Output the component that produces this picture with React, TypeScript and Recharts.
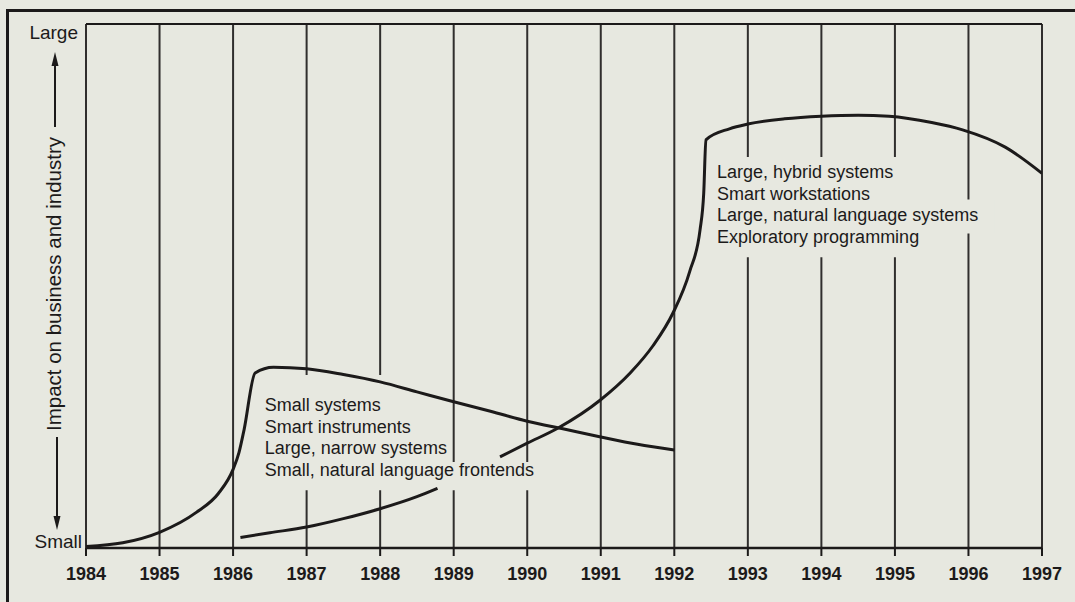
import React from 'react';
import { LineChart, Line, XAxis, YAxis, CartesianGrid, ReferenceArea, ReferenceLine, Label } from 'recharts';

// years along the bottom
const years = [1984, 1985, 1986, 1987, 1988, 1989, 1990, 1991, 1992, 1993, 1994, 1995, 1996, 1997];

// first wave: small systems etc.
const earlyYears = [1984, 1984.5, 1985, 1985.5, 1985.8, 1986, 1986.08, 1986.15, 1986.3, 1986.55, 1987, 1987.5, 1988, 1988.5, 1989, 1989.5, 1990, 1990.5, 1991, 1991.5, 1992];
const earlyImpact = [0.3, 1.0, 3.0, 6.8, 10.4, 15.0, 18.2, 22.6, 33.4, 34.5, 34.2, 33.1, 31.7, 29.8, 27.9, 26.1, 24.2, 22.7, 21.2, 19.8, 18.7];

// second wave: large hybrid systems etc. (null = where the label hides the curve)
const laterYears = [1986.1, 1986.5, 1987, 1987.5, 1988, 1988.5, 1988.78, 1989.2, 1989.63, 1990, 1990.42, 1990.99, 1991.4, 1991.71, 1991.98, 1992.21, 1992.35, 1992.4, 1992.43, 1992.75, 1993, 1993.5, 1994, 1994.5, 1994.92, 1995.5, 1995.92, 1996.5, 1997];
const laterImpact = [2.0, 2.9, 4.0, 5.6, 7.5, 9.8, 11.4, null, 17.4, 20.0, 22.9, 28.2, 33.4, 38.6, 44.8, 52.8, 60.7, 67.7, 77.9, 80.0, 80.9, 81.9, 82.4, 82.6, 82.4, 81.2, 79.8, 76.5, 71.5];

const yTicks = [0, 100];
const yTickLabels = ['Small', 'Large'];
const yTitle = 'Impact on business and industry';

const earlyApps = ['Small systems', 'Smart instruments', 'Large, narrow systems', 'Small, natural language frontends'];
const laterApps = ['Large, hybrid systems', 'Smart workstations', 'Large, natural language systems', 'Exploratory programming'];

const early = earlyYears.map((year, i) => ({ year, impact: earlyImpact[i] }));
const later = laterYears.map((year, i) => ({ year, impact: laterImpact[i] }));

const BG = '#e7e8e0';
const INK = '#1c1a1a';
const FONT = '"Liberation Sans", Arial, Helvetica, sans-serif';

function YTick(props: any) {
  const { x, y, payload } = props;
  const i = yTicks.indexOf(payload.value);
  const top = payload.value === 100;
  return (
    <text x={top ? x - 4 : x} y={top ? y + 15 : y} textAnchor="end" fontFamily={FONT} fontSize={19} fill={INK}>
      {yTickLabels[i]}
    </text>
  );
}

function YTitle(props: any) {
  const { viewBox } = props;
  const top = viewBox.y;
  const bottom = viewBox.y + viewBox.height;
  const cy = top + viewBox.height / 2 - 2;
  return (
    <g>
      <text x={61} y={cy} transform={`rotate(-90, 61, ${cy})`} textAnchor="middle" fontFamily={FONT} fontSize={20.5} fill={INK}>
        {yTitle}
      </text>
      <line x1={55} x2={55} y1={cy - 157} y2={top + 38} stroke={INK} strokeWidth={2} />
      <polygon points={`55,${top + 28} 51.5,${top + 42} 58.5,${top + 42}`} fill={INK} />
      <line x1={57} x2={57} y1={cy + 153} y2={bottom - 26} stroke={INK} strokeWidth={2} />
      <polygon points={`57,${bottom - 18} 53.5,${bottom - 32} 60.5,${bottom - 32}`} fill={INK} />
    </g>
  );
}

function textBlock(lines: string[], dx: number, dy: number) {
  return (props: any) => {
    const { x, y } = props.viewBox;
    return (
      <text fontFamily={FONT} fontSize={18} fill={INK}>
        {lines.map((l, i) => (
          <tspan key={l} x={x + dx} y={y + dy + i * 21.6}>{l}</tspan>
        ))}
      </text>
    );
  };
}

export default function App() {
  return (
    <div style={{ position: 'absolute', left: 0, top: 0, width: 1075, height: 602, background: BG, overflow: 'hidden' }}>
      <div style={{ position: 'absolute', left: 6, top: 9, width: 1100, height: 640, borderLeft: `3px solid ${INK}`, borderTop: `3px solid ${INK}` }} />
      <div style={{ position: 'absolute', left: 0, top: 0 }}>
        <LineChart width={1075} height={602} margin={{ top: 24, right: 33, bottom: 0, left: 0 }}>
          <CartesianGrid horizontal={false} stroke={INK} strokeWidth={2} strokeOpacity={0.9} />
          <ReferenceArea x1={1988.9} x2={1990.35} y1={11} y2={16.4} fill={BG} fillOpacity={1} stroke="none" ifOverflow="visible" />
          <ReferenceArea x1={1995.9} x2={1996.35} y1={60} y2={66.5} fill={BG} fillOpacity={1} stroke="none" ifOverflow="visible" />
          <ReferenceArea x1={1986.35} x2={1988.9} y1={11} y2={33} fill={BG} fillOpacity={1} stroke="none" ifOverflow="visible"
            label={{ content: textBlock(earlyApps, 6, 36) }} />
          <ReferenceArea x1={1992.5} x2={1995.9} y1={55.5} y2={74.6} fill={BG} fillOpacity={1} stroke="none" ifOverflow="visible"
            label={{ content: textBlock(laterApps, 6, 21) }} />
          <ReferenceLine y={100} stroke={INK} strokeWidth={2} />
          <XAxis
            dataKey="year"
            type="number"
            domain={[1984, 1997]}
            ticks={years}
            allowDataOverflow
            height={54}
            tickSize={8}
            tickMargin={11}
            tickLine={{ stroke: INK, strokeWidth: 2 }}
            axisLine={{ stroke: INK, strokeWidth: 2.5 }}
            tick={{ fill: INK, fontSize: 18, fontWeight: 'bold', fontFamily: FONT }}
          />
          <YAxis
            type="number"
            domain={[0, 100]}
            ticks={yTicks}
            width={86}
            axisLine={false}
            tickLine={false}
            tickSize={0}
            tickMargin={4}
            tick={<YTick />}
          >
            <Label content={<YTitle />} />
          </YAxis>
          <Line data={early} dataKey="impact" type="monotone" stroke={INK} strokeWidth={3} dot={false} isAnimationActive={false} />
          <Line data={later} dataKey="impact" type="monotone" stroke={INK} strokeWidth={3} dot={false} connectNulls={false} isAnimationActive={false} />
        </LineChart>
      </div>
    </div>
  );
}
